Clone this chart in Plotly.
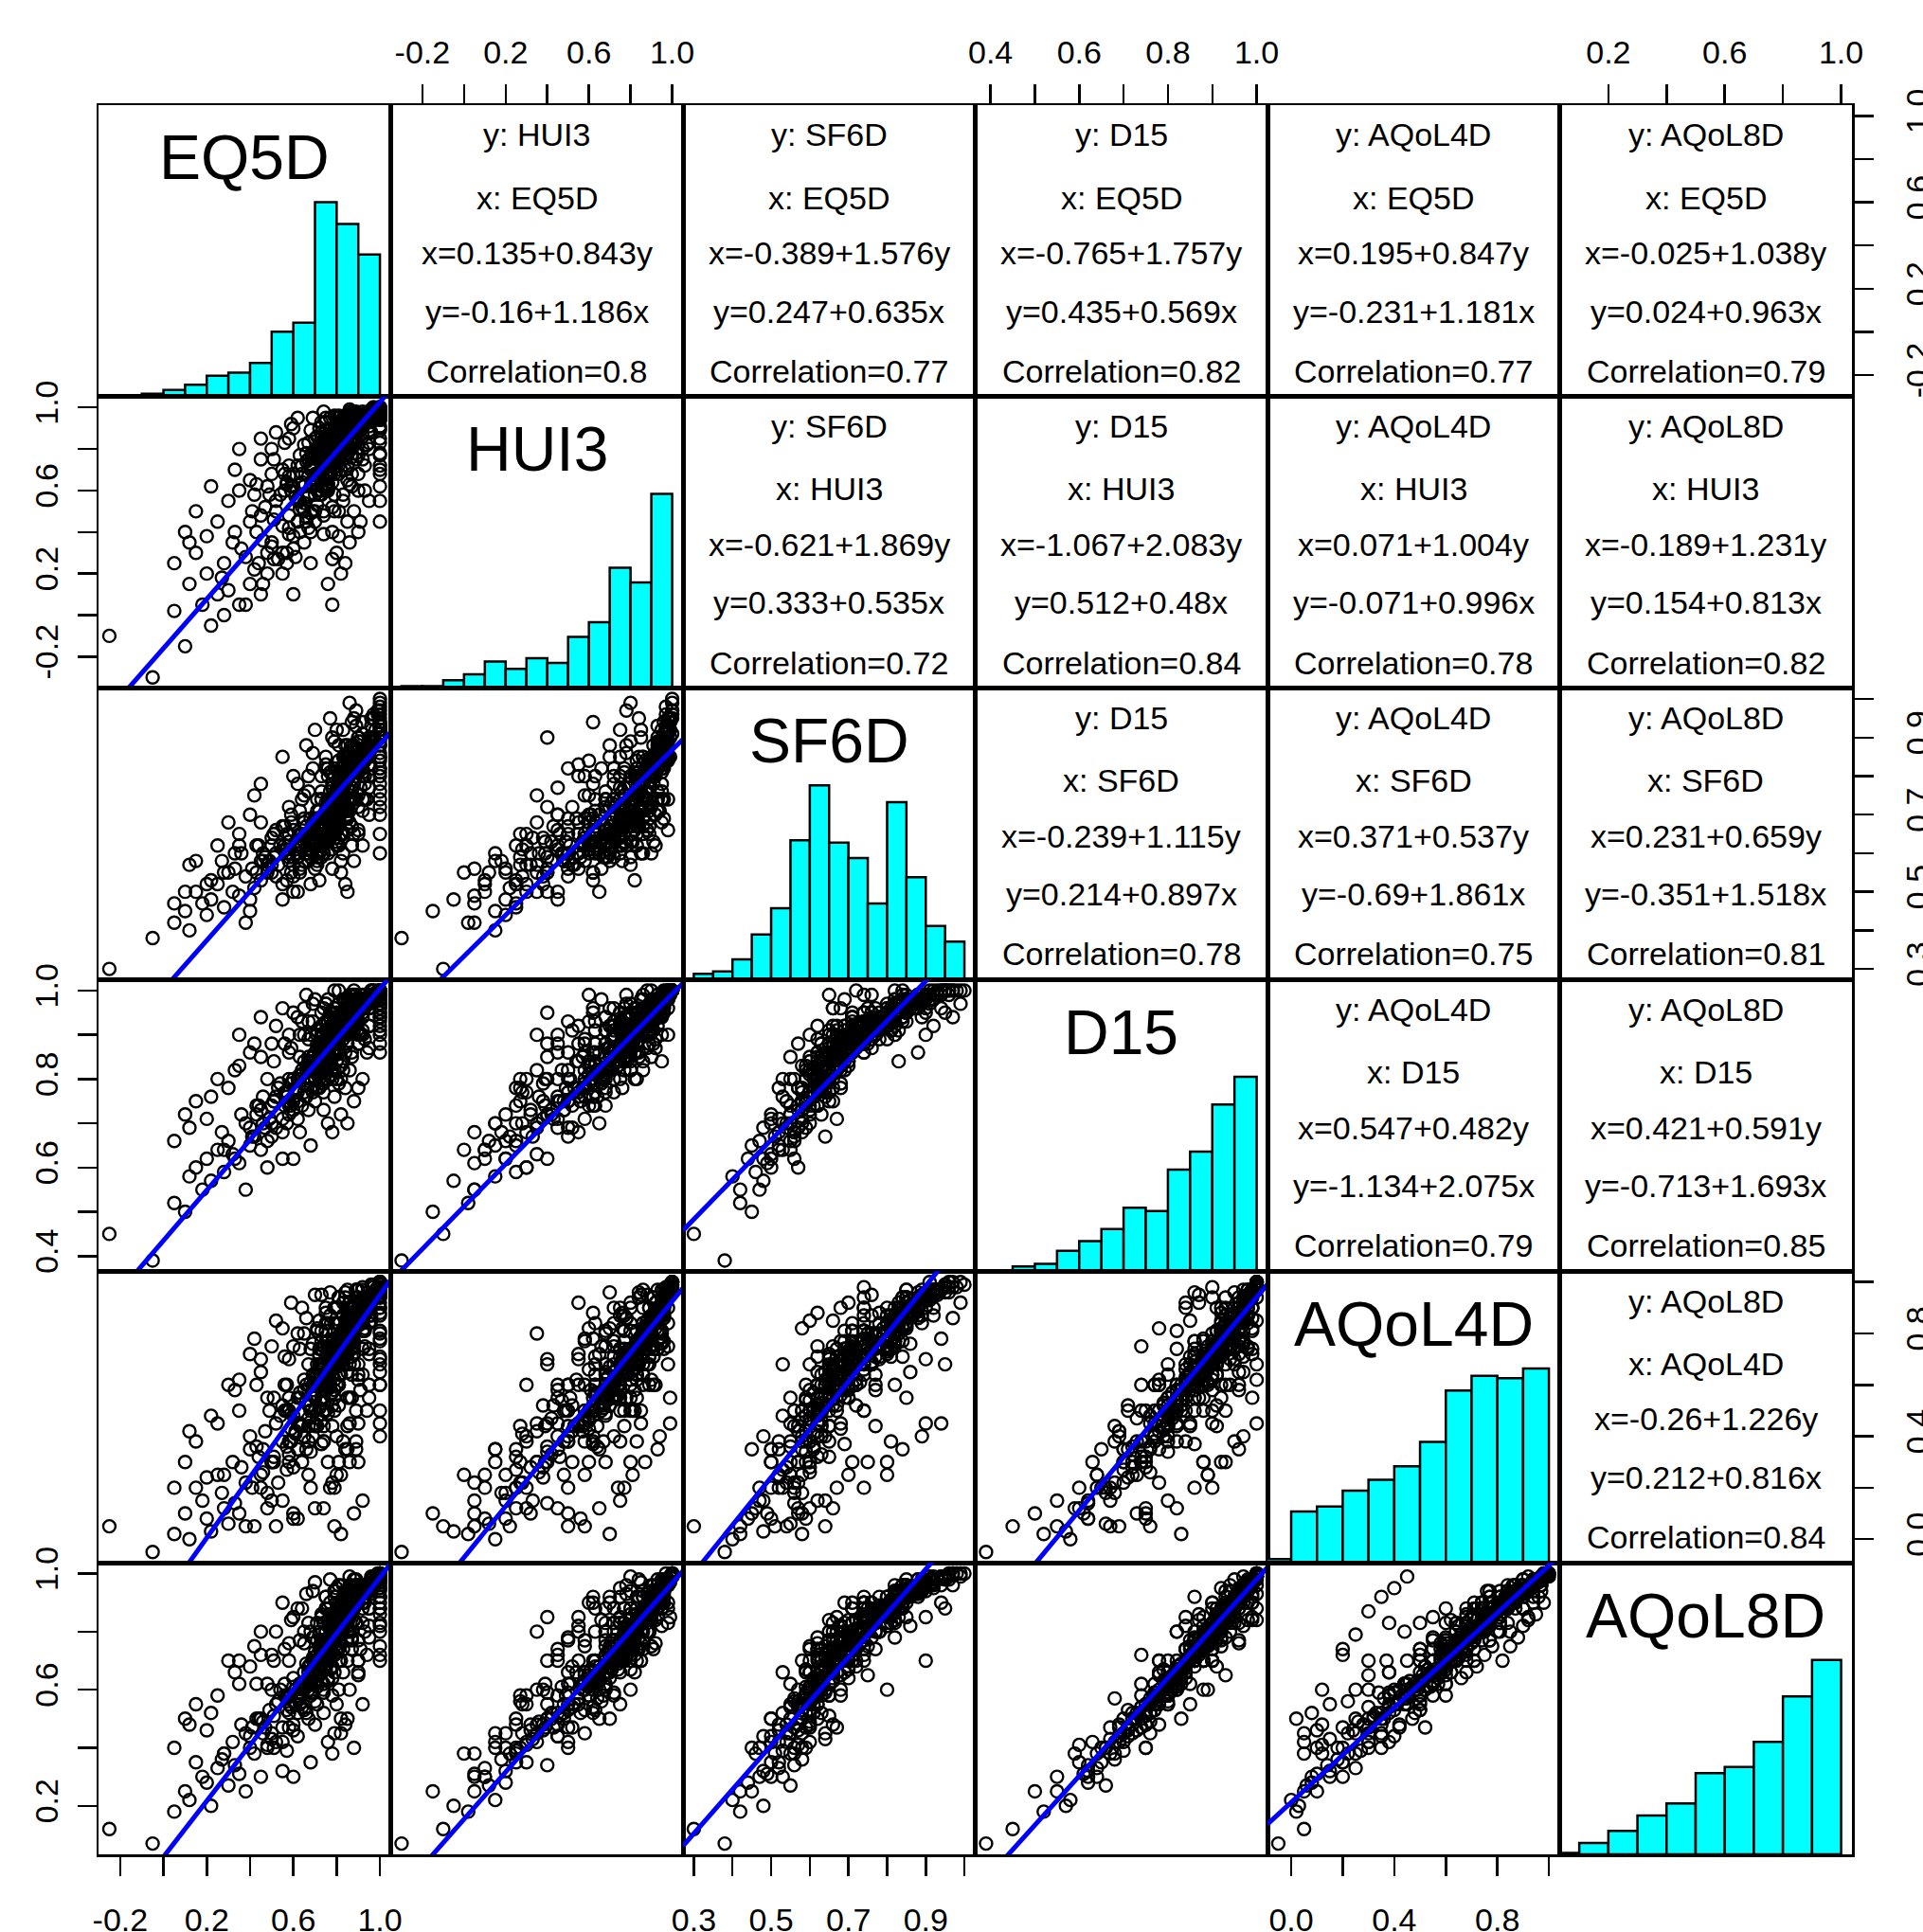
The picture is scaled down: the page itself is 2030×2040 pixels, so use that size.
import plotly.graph_objects as go
from plotly.subplots import make_subplots

names = ["EQ5D", "HUI3", "SF6D", "D15", "AQoL4D", "AQoL8D"]

EQ5D = [-0.25, -0.05, 0.05, 0.10, 0.12, 0.18, 0.20, 0.15, 0.22, 0.25, 0.28, 0.30, 0.32, 0.27, 0.35, 0.38, 0.40, 0.33, 0.42, 0.36, 0.45, 0.40, 0.48, 0.44, 0.20,
        0.50, 0.45, 0.55, 0.52, 0.48, 0.58, 0.60, 0.47, 0.53, 0.62, 0.56, 0.50, 0.65, 0.43, 0.57, 0.54, 0.60, 0.51, 0.63, 0.46, 0.59, 0.55, 0.68, 0.52, 0.61,
        0.62, 0.65, 0.58, 0.70, 0.66, 0.60, 0.72, 0.64, 0.68, 0.59, 0.74, 0.63, 0.67, 0.61, 0.70, 0.65, 0.57, 0.73, 0.66, 0.69, 0.62, 0.75, 0.64, 0.71, 0.60,
        0.70, 0.73, 0.68, 0.76, 0.71, 0.66, 0.74, 0.72, 0.69, 0.77, 0.70, 0.75, 0.67, 0.78, 0.72, 0.73, 0.68, 0.76, 0.71, 0.74, 0.69, 0.77, 0.72, 0.70, 0.75,
        0.75, 0.78, 0.73, 0.80, 0.76, 0.74, 0.79, 0.77, 0.72, 0.81, 0.75, 0.78, 0.74, 0.80, 0.76, 0.73, 0.79, 0.77, 0.75, 0.82, 0.76, 0.74, 0.80, 0.78, 0.75,
        0.79, 0.81, 0.77, 0.83, 0.80, 0.78, 0.82, 0.79, 0.85, 0.80, 0.77, 0.83, 0.81, 0.78, 0.84, 0.80, 0.79, 0.82, 0.77, 0.85, 0.81, 0.78, 0.83, 0.80, 0.82,
        0.83, 0.85, 0.81, 0.87, 0.84, 0.82, 0.86, 0.83, 0.88, 0.84, 0.82, 0.86, 0.85, 0.83, 0.87, 0.81, 0.85, 0.88, 0.84, 0.82, 0.86, 0.83, 0.87, 0.85, 0.84,
        0.87, 0.89, 0.85, 0.91, 0.88, 0.86, 0.90, 0.87, 0.92, 0.88, 0.86, 0.89, 0.87, 0.90, 0.85, 0.91, 0.88, 0.86, 0.90, 0.89, 0.87, 0.92, 0.88, 0.86, 0.90,
        0.92, 0.95, 0.90, 0.97, 0.93, 0.91, 0.94, 1.00, 0.92, 0.96, 0.90, 1.00, 0.93, 0.95, 0.91, 0.94, 1.00, 0.92, 0.96, 0.93, 0.90, 0.95, 1.00, 0.92, 0.94,
        1.00, 1.00, 0.96, 1.00, 0.98, 1.00, 0.97, 1.00, 0.99, 1.00, 0.96, 1.00, 1.00, 0.97, 1.00, 1.00, 0.98, 1.00, 0.99, 1.00, 0.96, 1.00, 1.00, 0.97, 1.00,
        0.85, 0.80, 0.90, 0.75, 0.60, 1.00, 1.00, 1.00, 0.45, 0.35, 0.82, 0.88, 0.70, 0.55, 0.78, 0.85, 0.92, 0.65, 0.50, 0.30, 0.25, 0.15, 0.95, 0.88, 0.72,
        0.80, 0.68, 0.76, 0.86, 1.00, 1.00, 1.00, 0.58, 0.62, 0.40, 0.83, 0.90, 0.94, 0.74, 0.66, 0.55, 0.48, 0.10, 0.05, 0.38, 0.60, 0.78, 0.84, 0.91, 0.87,
        0.80, 0.73, 0.69, 0.79, 0.82, 0.70, 0.90, 0.86, 0.64, 0.52, 0.42, 0.33, 0.90, 0.95, 1.00, 1.00, 1.00, 0.77, 0.71, 0.85, 0.76, 0.63, 0.57, 0.46, 0.28,
        0.22, 0.12, 0.35, 0.89, 0.93, 0.81, 0.84, 0.78, 0.72, 0.67, 0.88, 0.92, 0.96, 0.74, 0.81, 0.59, 0.45, 0.50, 0.86, 0.79, 0.87, 0.69, 0.93, 0.76, 0.65,
        0.76, 0.85, 0.74, 0.81, 0.67, 0.89, 0.79, 0.56, 0.84, 0.75, 0.87, 0.70, 0.78, 0.92, 0.62, 0.82, 0.73, 0.86, 0.49, 0.79, 0.95, 0.69, 0.83, 0.76, 0.89,
        0.78, 0.58, 0.80, 0.72, 0.88, 0.79, 0.74, 0.84, 0.64, 0.83, 0.77, 0.93, 0.68, 0.82, 0.75, 0.41, 0.85, 0.80, 0.71, 1.00, 0.73, 0.87, 0.76, 0.58, 0.84,
        0.90, 0.75, 0.81, 0.69, 0.85, 0.78, 0.51, 0.96, 0.73, 0.84, 0.77, 0.63, 0.88, 0.81, 0.70, 0.93, 0.76, 0.85, 0.67, 0.79, 0.89, 0.77, 0.72, 0.83, 0.57,
        0.81, 0.86, 0.89, 0.77, 0.68, 0.74, 0.87, 0.92, 1.00, 1.00, 1.00, 1.00, 0.56, 0.51, 0.83, 0.79, 0.73, 0.85, 0.90, 0.81, 0.76, 0.71, 0.87, 0.84, 0.75,
        0.63, 0.43, 0.79, 0.92, 0.95, 0.86, 0.81, 0.78, 0.71, 0.89, 0.83, 0.87, 0.80, 0.73, 0.67, 0.95, 0.93, 0.81, 0.85, 0.89, 0.77, 0.75, 0.79, 0.58, 0.83,
        0.87, 0.73, 0.82, 1.00, 1.00, 1.00, 0.96, 0.92, 0.89, 0.88, 0.85, 0.81, 0.79, 0.95, 0.92, 0.83, 0.87, 0.90, 0.85, 0.95, 0.81, 0.77, 0.75, 0.71, 0.79]

HUI3 = [-0.10, -0.30, 0.02, -0.15, 0.15, 0.05, 0.20, 0.30, -0.05, 0.10, 0.25, 0.12, 0.35, 0.18, 0.05, 0.28, 0.15, 0.40, 0.22, 0.32, 0.10, 0.45, 0.30, 0.25, 0.38,
        0.35, 0.48, 0.30, 0.55, 0.20, 0.42, 0.38, 0.52, 0.27, 0.45, 0.60, 0.33, 0.50, 0.40, 0.25, 0.58, 0.32, 0.46, 0.55, 0.36, 0.62, 0.43, 0.40, 0.50, 0.28,
        0.55, 0.62, 0.48, 0.65, 0.45, 0.68, 0.58, 0.52, 0.70, 0.60, 0.50, 0.63, 0.42, 0.57, 0.66, 0.54, 0.64, 0.60, 0.47, 0.72, 0.56, 0.61, 0.68, 0.53, 0.62,
        0.68, 0.72, 0.62, 0.75, 0.60, 0.74, 0.66, 0.78, 0.63, 0.70, 0.58, 0.73, 0.67, 0.64, 0.76, 0.69, 0.72, 0.61, 0.80, 0.65, 0.70, 0.74, 0.67, 0.77, 0.63,
        0.74, 0.78, 0.70, 0.80, 0.72, 0.82, 0.75, 0.68, 0.79, 0.76, 0.71, 0.84, 0.73, 0.77, 0.69, 0.81, 0.74, 0.78, 0.72, 0.80, 0.75, 0.83, 0.70, 0.76, 0.79,
        0.80, 0.84, 0.77, 0.86, 0.79, 0.82, 0.78, 0.88, 0.81, 0.76, 0.85, 0.80, 0.83, 0.79, 0.87, 0.81, 0.77, 0.84, 0.80, 0.82, 0.78, 0.86, 0.81, 0.83, 0.79,
        0.85, 0.89, 0.83, 0.91, 0.86, 0.88, 0.84, 0.90, 0.86, 0.92, 0.85, 0.87, 0.89, 0.84, 0.90, 0.87, 0.83, 0.91, 0.88, 0.86, 0.92, 0.85, 0.89, 0.87, 0.90,
        0.91, 0.94, 0.89, 0.95, 0.92, 0.93, 0.90, 0.96, 0.91, 0.94, 0.90, 0.93, 0.95, 0.91, 0.92, 0.96, 0.89, 0.94, 0.92, 0.95, 0.90, 0.93, 0.91, 0.96, 0.92,
        0.94, 0.96, 0.93, 0.97, 0.95, 0.96, 0.94, 0.97, 0.93, 0.96, 0.95, 0.94, 0.97, 0.93, 0.96, 0.95, 0.97, 0.94, 0.96, 0.93, 0.97, 0.95, 0.94, 0.96, 0.95,
        0.98, 1.00, 0.97, 0.99, 0.98, 1.00, 0.96, 0.99, 0.97, 1.00, 0.98, 0.97, 0.99, 1.00, 0.98, 1.00, 0.97, 0.99, 1.00, 0.98, 0.99, 1.00, 0.97, 1.00, 0.99,
        0.45, 0.30, 0.60, 0.95, 0.90, 0.70, 0.55, 0.85, 0.75, 0.60, 0.20, 0.50, 0.85, 0.70, 0.40, 0.65, 0.75, 0.35, 0.80, 0.55, 0.45, 0.50, 0.80, 0.98, 0.90,
        0.75, 0.25, 0.15, 0.35, 0.90, 0.62, 0.78, 0.85, 0.95, 0.65, 0.55, 0.68, 0.82, 0.98, 0.78, 0.20, 0.62, 0.40, 0.25, 0.05, 0.10, 0.05, 0.25, 0.45, 0.62,
        0.95, 0.88, 0.50, 0.58, 0.70, 0.45, 0.85, 0.99, 0.72, 0.88, 0.58, 0.70, 0.40, 0.55, 0.45, 0.95, 0.68, 0.84, 0.76, 0.72, 0.66, 0.40, 0.30, 0.15, 0.00,
        0.62, 0.35, 0.80, 0.78, 0.60, 0.92, 0.70, 0.52, 0.82, 0.58, 0.86, 0.98, 0.88, 0.48, 0.38, 0.92, 0.85, 0.68, 0.80, 0.90, 0.76, 0.95, 0.72, 0.60, 0.82,
        0.63, 0.93, 0.81, 0.72, 0.75, 0.84, 0.89, 0.68, 0.77, 0.86, 0.96, 0.50, 0.83, 0.90, 0.72, 0.91, 0.62, 0.80, 0.58, 0.75, 0.95, 0.77, 0.94, 0.68, 0.86,
        0.80, 0.39, 0.88, 0.75, 0.83, 0.71, 0.84, 0.91, 0.64, 0.80, 0.86, 0.92, 0.49, 0.77, 0.89, 0.50, 0.82, 0.93, 0.63, 0.96, 0.78, 0.95, 0.72, 0.67, 0.91,
        0.89, 0.80, 0.75, 0.71, 0.96, 0.83, 0.27, 0.93, 0.86, 0.77, 0.89, 0.51, 0.86, 0.93, 0.77, 0.97, 0.72, 0.95, 0.57, 0.86, 0.91, 0.75, 0.80, 0.83, 0.63,
        0.50, 0.63, 0.75, 0.95, 0.89, 0.39, 0.68, 0.80, 0.83, 0.72, 0.91, 0.77, 0.83, 0.75, 0.58, 0.96, 0.93, 0.72, 0.77, 0.91, 0.63, 0.80, 0.83, 0.96, 0.86,
        0.77, 0.63, 0.50, 0.86, 0.89, 0.98, 0.95, 0.27, 0.68, 0.93, 0.75, 0.80, 0.91, 0.58, 0.83, 0.83, 0.95, 0.68, 0.77, 0.83, 0.77, 0.93, 0.80, 0.72, 0.86,
        0.93, 0.75, 0.83, 0.95, 0.89, 0.98, 0.98, 0.96, 0.98, 0.96, 0.86, 0.96, 0.89, 0.91, 0.93, 0.95, 0.98, 0.95, 0.93, 0.96, 0.80, 0.83, 0.89, 0.86, 0.68]

SF6D = [0.30, 0.38, 0.42, 0.45, 0.40, 0.47, 0.44, 0.50, 0.48, 0.52, 0.46, 0.55, 0.50, 0.58, 0.49, 0.54, 0.45, 0.56, 0.51, 0.60, 0.53, 0.48, 0.57, 0.62, 0.52,
        0.55, 0.58, 0.52, 0.60, 0.56, 0.63, 0.54, 0.59, 0.57, 0.50, 0.61, 0.64, 0.58, 0.55, 0.53, 0.62, 0.57, 0.65, 0.56, 0.60, 0.55, 0.67, 0.59, 0.54, 0.61,
        0.60, 0.63, 0.58, 0.66, 0.61, 0.59, 0.64, 0.57, 0.62, 0.68, 0.60, 0.65, 0.58, 0.62, 0.56, 0.69, 0.61, 0.63, 0.60, 0.64, 0.59, 0.70, 0.62, 0.57, 0.66,
        0.63, 0.66, 0.61, 0.64, 0.60, 0.67, 0.63, 0.62, 0.68, 0.65, 0.62, 0.70, 0.64, 0.61, 0.66, 0.59, 0.65, 0.63, 0.71, 0.60, 0.67, 0.64, 0.62, 0.69, 0.65,
        0.67, 0.70, 0.65, 0.68, 0.72, 0.66, 0.69, 0.64, 0.71, 0.67, 0.73, 0.68, 0.66, 0.70, 0.65, 0.74, 0.67, 0.69, 0.64, 0.72, 0.68, 0.70, 0.66, 0.71, 0.67,
        0.71, 0.75, 0.69, 0.73, 0.77, 0.70, 0.72, 0.74, 0.69, 0.76, 0.71, 0.73, 0.68, 0.78, 0.72, 0.70, 0.75, 0.71, 0.73, 0.80, 0.70, 0.74, 0.72, 0.76, 0.71,
        0.77, 0.80, 0.75, 0.82, 0.78, 0.76, 0.81, 0.79, 0.74, 0.83, 0.77, 0.80, 0.84, 0.76, 0.81, 0.79, 0.82, 0.78, 0.83, 0.75, 0.81, 0.80, 0.77, 0.84, 0.79,
        0.82, 0.84, 0.81, 0.86, 0.83, 0.82, 0.85, 0.83, 0.81, 0.87, 0.82, 0.84, 0.88, 0.81, 0.85, 0.83, 0.84, 0.86, 0.82, 0.85, 0.83, 0.87, 0.81, 0.84, 0.85,
        0.86, 0.88, 0.85, 0.90, 0.87, 0.89, 0.86, 0.91, 0.84, 0.88, 0.87, 0.89, 0.85, 0.90, 0.86, 0.88, 0.92, 0.85, 0.89, 0.87, 0.90, 0.86, 0.88, 0.91, 0.87,
        0.93, 0.97, 0.90, 0.95, 0.92, 1.00, 0.89, 0.94, 0.96, 0.91, 0.93, 0.98, 0.90, 0.95, 0.92, 0.96, 0.89, 0.94, 0.97, 0.91, 0.95, 0.99, 0.93, 0.96, 0.92,
        0.70, 0.62, 0.75, 0.85, 0.80, 0.72, 0.65, 0.60, 0.68, 0.62, 0.55, 0.58, 0.92, 0.85, 0.90, 0.50, 0.62, 0.75, 0.57, 0.68, 0.62, 0.58, 0.70, 0.95, 0.60,
        0.92, 0.52, 0.60, 0.68, 0.80, 0.78, 0.86, 0.72, 0.78, 0.70, 0.83, 0.66, 0.74, 0.66, 0.88, 0.48, 0.55, 0.50, 0.47, 0.42, 0.50, 0.56, 0.52, 0.77, 0.94,
        0.68, 0.76, 0.82, 0.64, 0.58, 0.66, 0.90, 0.85, 0.74, 0.66, 0.75, 0.60, 0.72, 0.80, 0.70, 0.85, 0.76, 0.95, 0.58, 0.66, 0.82, 0.55, 0.65, 0.58, 0.55,
        0.53, 0.57, 0.65, 0.97, 0.84, 0.62, 0.88, 0.72, 0.53, 0.80, 0.65, 0.74, 0.82, 0.60, 0.64, 0.70, 0.78, 0.62, 0.99, 0.72, 0.62, 0.86, 0.78, 0.70, 0.68,
        0.74, 0.71, 0.63, 0.80, 0.60, 0.85, 0.67, 0.62, 0.75, 0.69, 0.83, 0.65, 0.77, 0.82, 0.59, 0.81, 0.69, 0.74, 0.58, 0.65, 0.88, 0.63, 0.71, 0.72, 0.80,
        0.67, 0.60, 0.76, 0.62, 0.84, 0.69, 0.67, 0.85, 0.65, 0.74, 0.71, 0.80, 0.63, 0.82, 0.65, 0.56, 0.69, 0.74, 0.67, 0.85, 0.62, 0.82, 0.71, 0.59, 0.81,
        0.83, 0.63, 0.77, 0.62, 0.74, 0.69, 0.59, 0.89, 0.67, 0.71, 0.74, 0.62, 0.85, 0.71, 0.65, 0.84, 0.69, 0.81, 0.63, 0.74, 0.82, 0.67, 0.71, 0.76, 0.60,
        0.69, 0.71, 0.74, 0.76, 0.69, 0.63, 0.74, 0.80, 0.82, 0.74, 0.84, 0.81, 0.67, 0.65, 0.65, 0.82, 0.74, 0.82, 0.65, 0.88, 0.80, 0.59, 0.62, 0.69, 0.83,
        0.71, 0.62, 0.67, 0.71, 0.77, 0.85, 0.74, 0.65, 0.74, 0.93, 0.85, 0.67, 0.63, 0.69, 0.76, 0.80, 0.74, 0.71, 0.77, 0.81, 0.74, 0.82, 0.89, 0.65, 0.60,
        0.76, 0.80, 0.65, 0.88, 0.82, 0.93, 0.89, 0.94, 0.85, 0.88, 0.85, 0.84, 0.80, 0.83, 0.82, 0.92, 0.84, 0.89, 0.88, 0.85, 0.67, 0.81, 0.71, 0.69, 0.74]

D15 = [0.45, 0.39, 0.52, 0.50, 0.58, 0.55, 0.62, 0.60, 0.57, 0.64, 0.59, 0.66, 0.63, 0.68, 0.61, 0.70, 0.65, 0.62, 0.67, 0.72, 0.64, 0.69, 0.60, 0.74, 0.71,
       0.70, 0.73, 0.68, 0.76, 0.66, 0.72, 0.75, 0.69, 0.78, 0.71, 0.74, 0.67, 0.77, 0.72, 0.70, 0.79, 0.73, 0.75, 0.68, 0.76, 0.74, 0.71, 0.80, 0.69, 0.77,
       0.77, 0.79, 0.75, 0.82, 0.76, 0.80, 0.78, 0.74, 0.83, 0.79, 0.77, 0.81, 0.73, 0.78, 0.80, 0.84, 0.76, 0.79, 0.82, 0.77, 0.75, 0.83, 0.81, 0.78, 0.80,
       0.82, 0.84, 0.80, 0.86, 0.81, 0.83, 0.79, 0.85, 0.83, 0.87, 0.80, 0.84, 0.82, 0.81, 0.86, 0.83, 0.84, 0.80, 0.87, 0.82, 0.85, 0.83, 0.81, 0.86, 0.84,
       0.86, 0.88, 0.85, 0.89, 0.87, 0.90, 0.86, 0.85, 0.88, 0.87, 0.89, 0.86, 0.84, 0.90, 0.87, 0.88, 0.86, 0.89, 0.85, 0.90, 0.87, 0.88, 0.86, 0.89, 0.87,
       0.89, 0.91, 0.88, 0.92, 0.90, 0.89, 0.91, 0.93, 0.90, 0.89, 0.92, 0.90, 0.88, 0.91, 0.92, 0.89, 0.90, 0.91, 0.88, 0.92, 0.90, 0.91, 0.89, 0.92, 0.90,
       0.92, 0.93, 0.91, 0.94, 0.92, 0.93, 0.94, 0.92, 0.91, 0.95, 0.93, 0.92, 0.94, 0.91, 0.93, 0.94, 0.92, 0.93, 0.95, 0.92, 0.94, 0.93, 0.92, 0.94, 0.93,
       0.95, 0.96, 0.94, 0.97, 0.95, 0.96, 0.95, 0.97, 0.94, 0.96, 0.95, 0.96, 0.97, 0.95, 0.96, 0.97, 0.94, 0.96, 0.95, 0.97, 0.95, 0.96, 0.95, 0.97, 0.96,
       0.97, 0.98, 0.96, 0.99, 0.97, 0.98, 0.97, 0.98, 0.96, 0.98, 0.97, 0.97, 0.98, 0.96, 0.98, 0.97, 0.99, 0.97, 0.98, 0.96, 0.98, 0.97, 0.98, 0.97, 0.98,
       0.99, 1.00, 0.99, 1.00, 0.99, 1.00, 0.98, 1.00, 0.99, 1.00, 0.99, 1.00, 0.99, 1.00, 0.99, 1.00, 0.98, 1.00, 1.00, 0.99, 1.00, 1.00, 0.99, 1.00, 1.00,
       0.88, 0.80, 0.93, 0.97, 0.95, 0.92, 0.88, 0.90, 0.85, 0.83, 0.72, 0.75, 0.98, 0.96, 0.95, 0.70, 0.80, 0.90, 0.88, 0.78, 0.80, 0.75, 0.87, 1.00, 0.85,
       0.92, 0.65, 0.70, 0.82, 0.93, 0.95, 0.97, 0.90, 0.94, 0.86, 0.84, 0.78, 0.86, 0.96, 0.99, 0.62, 0.80, 0.72, 0.66, 0.55, 0.62, 0.68, 0.78, 0.90, 0.96,
       0.84, 0.87, 0.93, 0.76, 0.83, 0.75, 0.90, 0.99, 0.93, 0.92, 0.88, 0.82, 0.88, 0.92, 0.86, 0.96, 0.94, 0.95, 0.78, 0.96, 0.98, 0.85, 0.77, 0.70, 0.64,
       0.76, 0.69, 0.90, 0.94, 0.99, 0.89, 0.86, 0.91, 0.80, 0.89, 0.99, 0.90, 1.00, 0.73, 0.79, 0.87, 0.94, 0.74, 0.97, 1.00, 0.92, 0.97, 0.89, 0.84, 0.96,
       0.86, 0.95, 0.88, 0.92, 0.84, 0.93, 0.91, 0.77, 0.96, 0.82, 0.97, 0.80, 0.90, 0.98, 0.80, 0.93, 0.86, 0.95, 0.71, 0.91, 0.99, 0.85, 0.94, 0.88, 0.96,
       0.82, 0.74, 0.90, 0.86, 0.93, 0.92, 0.85, 0.96, 0.82, 0.91, 0.94, 0.97, 0.78, 0.90, 0.88, 0.67, 0.92, 0.95, 0.88, 0.98, 0.84, 0.96, 0.86, 0.80, 0.91,
       0.97, 0.84, 0.93, 0.82, 0.95, 0.91, 0.75, 0.98, 0.90, 0.92, 0.88, 0.80, 0.95, 0.94, 0.82, 0.98, 0.90, 0.96, 0.85, 0.91, 0.93, 0.88, 0.86, 0.95, 0.77,
       0.86, 0.91, 0.93, 0.95, 0.90, 0.80, 0.91, 0.95, 0.96, 0.91, 0.97, 0.94, 0.88, 0.84, 0.82, 0.96, 0.92, 0.90, 0.88, 0.97, 0.93, 0.82, 0.86, 0.98, 0.91,
       0.90, 0.74, 0.82, 0.91, 0.96, 0.98, 0.90, 0.80, 0.91, 0.99, 0.95, 0.85, 0.88, 0.86, 0.93, 0.92, 0.99, 0.88, 0.91, 0.95, 0.90, 0.97, 0.94, 0.86, 0.84,
       0.99, 0.95, 0.80, 0.99, 0.95, 1.00, 0.99, 0.99, 0.98, 0.99, 0.98, 1.00, 0.96, 0.97, 0.97, 0.98, 0.98, 0.97, 0.96, 0.96, 0.92, 0.91, 0.93, 0.90, 0.91]

AQoL4D = [0.05, -0.05, 0.02, 0.10, 0.00, 0.15, 0.08, 0.20, 0.03, 0.25, 0.12, 0.06, 0.30, 0.18, 0.10, 0.22, 0.35, 0.14, 0.05, 0.28, 0.20, 0.40, 0.12, 0.32, 0.24,
          0.30, 0.25, 0.38, 0.45, 0.18, 0.33, 0.28, 0.42, 0.22, 0.35, 0.50, 0.15, 0.40, 0.36, 0.27, 0.48, 0.10, 0.32, 0.44, 0.26, 0.38, 0.52, 0.34, 0.05, 0.41,
          0.45, 0.40, 0.50, 0.55, 0.35, 0.48, 0.60, 0.30, 0.52, 0.43, 0.38, 0.57, 0.47, 0.42, 0.50, 0.62, 0.36, 0.46, 0.54, 0.40, 0.08, 0.58, 0.49, 0.44, 0.52,
          0.55, 0.58, 0.50, 0.62, 0.47, 0.60, 0.53, 0.65, 0.56, 0.59, 0.45, 0.63, 0.52, 0.57, 0.66, 0.54, 0.61, 0.49, 0.68, 0.12, 0.58, 0.56, 0.51, 0.64, 0.60,
          0.63, 0.67, 0.60, 0.70, 0.62, 0.68, 0.58, 0.65, 0.72, 0.64, 0.61, 0.69, 0.55, 0.71, 0.63, 0.66, 0.20, 0.68, 0.60, 0.73, 0.65, 0.62, 0.67, 0.70, 0.64,
          0.70, 0.74, 0.68, 0.76, 0.71, 0.66, 0.73, 0.78, 0.72, 0.69, 0.75, 0.70, 0.77, 0.71, 0.74, 0.25, 0.72, 0.76, 0.68, 0.73, 0.70, 0.75, 0.71, 0.74, 0.69,
          0.77, 0.81, 0.74, 0.84, 0.76, 0.80, 0.78, 0.82, 0.75, 0.85, 0.79, 0.30, 0.83, 0.77, 0.81, 0.79, 0.76, 0.84, 0.80, 0.78, 0.82, 0.77, 0.80, 0.83, 0.79,
          0.84, 0.87, 0.82, 0.89, 0.85, 0.86, 0.83, 0.88, 0.84, 0.90, 0.83, 0.35, 0.87, 0.85, 0.86, 0.89, 0.82, 0.88, 0.84, 0.87, 0.83, 0.90, 0.85, 0.86, 0.88,
          0.90, 0.93, 0.88, 0.95, 0.91, 0.92, 0.89, 0.94, 0.88, 0.93, 0.91, 0.40, 0.92, 0.90, 0.93, 0.89, 0.95, 0.90, 0.92, 0.88, 0.94, 0.91, 0.90, 0.93, 0.92,
          0.96, 1.00, 0.95, 0.98, 0.97, 0.99, 0.94, 0.97, 0.96, 1.00, 0.95, 0.98, 0.96, 0.99, 0.97, 1.00, 0.95, 0.45, 0.98, 0.96, 0.99, 1.00, 0.97, 0.98, 0.97,
          0.55, 0.40, 0.30, 0.88, 0.75, 0.60, 0.70, 0.50, 0.65, 0.50, 0.25, 0.10, 0.95, 0.82, 0.70, 0.35, 0.15, 0.80, 0.30, 0.60, 0.45, 0.38, 0.55, 0.68, 0.85,
          0.90, 0.20, 0.30, 0.45, 0.78, 0.88, 0.65, 0.70, 0.80, 0.72, 0.92, 0.62, 0.50, 0.75, 0.86, 0.15, 0.55, 0.30, 0.20, 0.05, 0.08, 0.22, 0.35, 0.58, 0.78,
          0.90, 0.95, 0.60, 0.05, 0.02, 0.12, 0.45, 0.55, 0.90, 0.85, 0.78, 0.58, 0.68, 0.72, 0.60, 0.92, 0.80, 0.96, 0.82, 0.65, 0.75, 0.45, 0.60, 0.35, 0.25,
          0.48, 0.42, 0.62, 0.86, 0.82, 0.60, 0.96, 0.52, 0.68, 0.25, 0.72, 0.98, 0.85, 0.38, 0.52, 0.92, 0.70, 0.75, 0.92, 0.62, 0.88, 0.76, 0.75, 0.66, 0.58,
          0.71, 0.74, 0.50, 0.84, 0.38, 0.94, 0.68, 0.60, 0.72, 0.81, 0.77, 0.44, 0.64, 0.87, 0.55, 0.74, 0.37, 0.90, 0.50, 0.68, 0.90, 0.64, 0.81, 0.60, 0.84,
          0.74, 0.30, 0.68, 0.71, 0.77, 0.55, 0.68, 0.94, 0.44, 0.81, 0.60, 0.87, 0.50, 0.77, 0.71, 0.20, 0.74, 0.84, 0.64, 0.94, 0.55, 0.81, 0.77, 0.38, 0.71,
          0.90, 0.50, 0.74, 0.60, 0.87, 0.64, 0.30, 0.87, 0.68, 0.81, 0.71, 0.55, 0.84, 0.74, 0.50, 0.94, 0.71, 0.77, 0.44, 0.81, 0.87, 0.60, 0.74, 0.68, 0.50,
          0.60, 0.68, 0.50, 0.87, 0.74, 0.44, 0.64, 0.74, 0.81, 0.68, 0.71, 0.87, 0.71, 0.55, 0.38, 0.90, 0.81, 0.77, 0.64, 0.94, 0.84, 0.60, 0.55, 0.74, 0.90,
          0.74, 0.60, 0.50, 0.64, 0.60, 0.84, 0.94, 0.44, 0.81, 0.97, 0.87, 0.71, 0.60, 0.77, 0.68, 0.74, 0.81, 0.30, 0.44, 0.38, 0.20, 0.77, 0.84, 0.55, 0.68,
          0.74, 0.74, 0.64, 0.90, 0.77, 0.97, 0.94, 0.97, 0.97, 0.90, 0.97, 0.94, 0.90, 0.84, 0.81, 0.87, 0.90, 0.97, 0.90, 0.87, 0.71, 0.74, 0.84, 0.64, 0.68]

AQoL8D = [0.12, 0.07, 0.18, 0.25, 0.22, 0.30, 0.28, 0.35, 0.20, 0.33, 0.38, 0.27, 0.42, 0.36, 0.31, 0.45, 0.40, 0.34, 0.38, 0.48, 0.30, 0.44, 0.41, 0.50, 0.46,
          0.45, 0.50, 0.42, 0.55, 0.40, 0.52, 0.48, 0.47, 0.56, 0.44, 0.58, 0.43, 0.53, 0.50, 0.39, 0.60, 0.46, 0.51, 0.57, 0.49, 0.54, 0.47, 0.59, 0.42, 0.55,
          0.57, 0.60, 0.55, 0.63, 0.52, 0.61, 0.65, 0.54, 0.64, 0.58, 0.59, 0.62, 0.50, 0.60, 0.56, 0.66, 0.57, 0.63, 0.61, 0.59, 0.52, 0.67, 0.60, 0.55, 0.64,
          0.66, 0.70, 0.63, 0.72, 0.61, 0.69, 0.67, 0.71, 0.65, 0.73, 0.62, 0.70, 0.68, 0.64, 0.74, 0.66, 0.69, 0.63, 0.72, 0.60, 0.71, 0.67, 0.65, 0.73, 0.68,
          0.73, 0.76, 0.71, 0.78, 0.74, 0.77, 0.72, 0.75, 0.79, 0.74, 0.76, 0.78, 0.70, 0.79, 0.73, 0.77, 0.72, 0.75, 0.71, 0.80, 0.76, 0.74, 0.73, 0.78, 0.75,
          0.79, 0.82, 0.78, 0.84, 0.80, 0.79, 0.81, 0.85, 0.80, 0.78, 0.83, 0.81, 0.82, 0.80, 0.84, 0.79, 0.81, 0.83, 0.79, 0.82, 0.80, 0.84, 0.81, 0.82, 0.80,
          0.85, 0.88, 0.84, 0.89, 0.86, 0.87, 0.85, 0.88, 0.84, 0.90, 0.86, 0.87, 0.89, 0.85, 0.88, 0.87, 0.84, 0.89, 0.88, 0.85, 0.90, 0.86, 0.87, 0.88, 0.89,
          0.90, 0.92, 0.89, 0.93, 0.91, 0.90, 0.92, 0.94, 0.90, 0.93, 0.91, 0.92, 0.94, 0.90, 0.92, 0.93, 0.90, 0.92, 0.91, 0.93, 0.90, 0.94, 0.91, 0.92, 0.93,
          0.94, 0.96, 0.93, 0.97, 0.95, 0.94, 0.95, 0.96, 0.93, 0.96, 0.94, 0.95, 0.96, 0.94, 0.95, 0.96, 0.97, 0.93, 0.95, 0.94, 0.96, 0.95, 0.94, 0.96, 0.95,
          0.98, 1.00, 0.97, 0.99, 0.98, 1.00, 0.97, 0.99, 0.98, 0.99, 0.98, 1.00, 0.97, 0.99, 0.98, 1.00, 0.97, 0.99, 1.00, 0.98, 0.99, 1.00, 0.98, 0.99, 0.99,
          0.70, 0.55, 0.65, 0.92, 0.85, 0.75, 0.80, 0.70, 0.72, 0.62, 0.45, 0.40, 0.97, 0.90, 0.85, 0.50, 0.55, 0.80, 0.60, 0.70, 0.58, 0.55, 0.78, 0.88, 0.75,
          0.95, 0.35, 0.42, 0.60, 0.86, 0.92, 0.82, 0.76, 0.88, 0.68, 0.85, 0.66, 0.72, 0.83, 0.93, 0.32, 0.62, 0.50, 0.40, 0.25, 0.30, 0.38, 0.48, 0.74, 0.90,
          0.82, 0.86, 0.78, 0.45, 0.50, 0.48, 0.70, 0.85, 0.88, 0.80, 0.75, 0.66, 0.70, 0.82, 0.72, 0.95, 0.88, 0.98, 0.70, 0.77, 0.84, 0.55, 0.58, 0.45, 0.38,
          0.52, 0.48, 0.70, 0.96, 0.90, 0.76, 0.92, 0.68, 0.66, 0.60, 0.84, 0.90, 0.93, 0.52, 0.60, 0.84, 0.80, 0.72, 0.99, 0.84, 0.78, 0.94, 0.80, 0.64, 0.76,
          0.70, 0.88, 0.74, 0.83, 0.66, 0.92, 0.85, 0.62, 0.88, 0.80, 0.94, 0.62, 0.83, 0.96, 0.58, 0.90, 0.70, 0.88, 0.53, 0.77, 0.96, 0.70, 0.90, 0.77, 0.92,
          0.80, 0.47, 0.83, 0.70, 0.88, 0.77, 0.74, 0.94, 0.62, 0.86, 0.83, 0.92, 0.58, 0.88, 0.80, 0.47, 0.83, 0.88, 0.70, 0.98, 0.74, 0.92, 0.77, 0.58, 0.88,
          0.94, 0.74, 0.83, 0.67, 0.90, 0.80, 0.40, 0.96, 0.77, 0.83, 0.85, 0.62, 0.92, 0.88, 0.70, 0.96, 0.77, 0.90, 0.62, 0.83, 0.94, 0.74, 0.80, 0.86, 0.53,
          0.77, 0.80, 0.83, 0.90, 0.80, 0.62, 0.80, 0.88, 0.92, 0.83, 0.90, 0.88, 0.74, 0.70, 0.66, 0.94, 0.85, 0.83, 0.77, 0.96, 0.88, 0.67, 0.74, 0.90, 0.88,
          0.77, 0.62, 0.66, 0.83, 0.88, 0.96, 0.90, 0.58, 0.83, 0.98, 0.92, 0.77, 0.74, 0.77, 0.83, 0.88, 0.92, 0.70, 0.80, 0.83, 0.74, 0.92, 0.94, 0.70, 0.74,
          0.90, 0.85, 0.70, 0.98, 0.92, 0.98, 0.98, 0.96, 0.96, 0.98, 0.94, 0.96, 0.92, 0.94, 0.94, 0.96, 0.96, 0.96, 0.94, 0.94, 0.80, 0.86, 0.88, 0.77, 0.80]

# histogram bins (first break, bin width, counts)
hist_start = [-0.3, -0.3, 0.30, 0.35, -0.1, 0.0]
hist_width = [0.1, 0.1, 0.05, 0.05, 0.1, 0.1]
EQ5D_counts = [1, 0, 4, 9, 16, 28, 32, 45, 87, 99, 260, 231, 190]
HUI3_counts = [3, 3, 12, 21, 40, 29, 45, 38, 77, 99, 181, 159, 292]
SF6D_counts = [5, 7, 17, 38, 60, 117, 163, 115, 102, 64, 149, 86, 45, 32]
D15_counts = [1, 1, 6, 9, 25, 37, 52, 78, 74, 125, 147, 205, 239]
AQoL4D_counts = [3, 42, 46, 59, 68, 79, 99, 141, 153, 151, 159]
AQoL8D_counts = [2, 15, 31, 51, 67, 107, 115, 148, 208, 256]

# tick marks and labels
EQ5D_ticks = [-0.2, 0.0, 0.2, 0.4, 0.6, 0.8, 1.0]
EQ5D_labels = ["-0.2", "", "0.2", "", "0.6", "", "1.0"]
HUI3_ticks = [-0.2, 0.0, 0.2, 0.4, 0.6, 0.8, 1.0]
HUI3_labels = ["-0.2", "", "0.2", "", "0.6", "", "1.0"]
SF6D_ticks = [0.3, 0.4, 0.5, 0.6, 0.7, 0.8, 0.9, 1.0]
SF6D_labels = ["0.3", "", "0.5", "", "0.7", "", "0.9", ""]
D15_ticks = [0.4, 0.5, 0.6, 0.7, 0.8, 0.9, 1.0]
D15_labels = ["0.4", "", "0.6", "", "0.8", "", "1.0"]
AQoL4D_ticks = [0.0, 0.2, 0.4, 0.6, 0.8, 1.0]
AQoL4D_labels = ["0.0", "", "0.4", "", "0.8", ""]
AQoL8D_ticks = [0.2, 0.4, 0.6, 0.8, 1.0]
AQoL8D_labels = ["0.2", "", "0.6", "", "1.0"]

# fitted-line texts of the upper panels: (row var i, col var j)
pair_i = [0, 0, 0, 0, 0, 1, 1, 1, 1, 2, 2, 2, 3, 3, 4]
pair_j = [1, 2, 3, 4, 5, 2, 3, 4, 5, 3, 4, 5, 4, 5, 5]
x_int = [0.135, -0.389, -0.765, 0.195, -0.025, -0.621, -1.067, 0.071, -0.189, -0.239, 0.371, 0.231, 0.547, 0.421, -0.26]
x_slope = [0.843, 1.576, 1.757, 0.847, 1.038, 1.869, 2.083, 1.004, 1.231, 1.115, 0.537, 0.659, 0.482, 0.591, 1.226]
y_int = [-0.16, 0.247, 0.435, -0.231, 0.024, 0.333, 0.512, -0.071, 0.154, 0.214, -0.69, -0.351, -1.134, -0.713, 0.212]
y_slope = [1.186, 0.635, 0.569, 1.181, 0.963, 0.535, 0.48, 0.996, 0.813, 0.897, 1.861, 1.518, 2.075, 1.693, 0.816]
corr = [0.8, 0.77, 0.82, 0.77, 0.79, 0.72, 0.84, 0.78, 0.82, 0.78, 0.75, 0.81, 0.79, 0.85, 0.84]

data = [EQ5D, HUI3, SF6D, D15, AQoL4D, AQoL8D]
counts = [EQ5D_counts, HUI3_counts, SF6D_counts, D15_counts, AQoL4D_counts, AQoL8D_counts]
ticks = [EQ5D_ticks, HUI3_ticks, SF6D_ticks, D15_ticks, AQoL4D_ticks, AQoL8D_ticks]
labels = [EQ5D_labels, HUI3_labels, SF6D_labels, D15_labels, AQoL4D_labels, AQoL8D_labels]
N = min(len(d) for d in data)
data = [d[:N] for d in data]

ranges = []
for d in data:
    lo, hi = min(d), max(d)
    pad = 0.04 * (hi - lo)
    ranges.append([lo - pad, hi + pad])

FONT = "Liberation Sans, Arial, Helvetica, sans-serif"
fig = make_subplots(rows=6, cols=6, horizontal_spacing=0, vertical_spacing=0)


def ref(r, c):
    idx = r * 6 + c + 1
    return ("x" if idx == 1 else f"x{idx}"), ("y" if idx == 1 else f"y{idx}")


# diagonal: histograms and names
for k in range(6):
    cnt = counts[k]
    mx = max(cnt)
    centers = [hist_start[k] + hist_width[k] * (b + 0.5) for b in range(len(cnt))]
    fig.add_trace(go.Bar(x=centers, y=[v / mx for v in cnt], width=hist_width[k],
                         marker=dict(color="#00FFFF", line=dict(color="black", width=2.5)),
                         showlegend=False, hoverinfo="skip"), row=k + 1, col=k + 1)
    xr, yr = ref(k, k)
    fig.add_annotation(text=names[k], x=0.5, y=0.82, xref=f"{xr} domain", yref=f"{yr} domain",
                       showarrow=False, xanchor="center", yanchor="middle",
                       font=dict(family=FONT, size=66, color="black"))

# lower panels: scatter + line; upper panels: text
text_y = [0.898, 0.683, 0.493, 0.293, 0.088]
for p in range(len(pair_i)):
    i, j = pair_i[p], pair_j[p]
    fig.add_trace(go.Scatter(x=data[i], y=data[j], mode="markers",
                             marker=dict(symbol="circle-open", size=13, color="black",
                                         line=dict(width=2.4, color="black")),
                             showlegend=False, hoverinfo="skip"), row=j + 1, col=i + 1)
    lx = ranges[i]
    fig.add_trace(go.Scatter(x=lx, y=[y_int[p] + y_slope[p] * v for v in lx], mode="lines",
                             line=dict(color="#0000FF", width=5),
                             showlegend=False, hoverinfo="skip"), row=j + 1, col=i + 1)
    # invisible anchor so the upper panel axes are drawn
    fig.add_trace(go.Scatter(x=[ranges[j][0]], y=[ranges[i][0]], mode="markers",
                             marker=dict(opacity=0, size=1), showlegend=False, hoverinfo="skip"),
                  row=i + 1, col=j + 1)
    xr, yr = ref(i, j)
    lines = [f"y: {names[j]}", f"x: {names[i]}", f"x={x_int[p]}+{x_slope[p]}y",
             f"y={y_int[p]}+{y_slope[p]}x", f"Correlation={corr[p]}"]
    for t, yy in zip(lines, text_y):
        fig.add_annotation(text=t, x=0.5, y=yy, xref=f"{xr} domain", yref=f"{yr} domain",
                           showarrow=False, xanchor="center", yanchor="middle",
                           font=dict(family=FONT, size=34, color="black"))

# axes
for r in range(6):
    for c in range(6):
        xa = dict(range=ranges[c], showgrid=False, zeroline=False, showline=True, mirror=True,
                  linecolor="black", linewidth=2.5, showticklabels=False, ticks="",
                  automargin=False, fixedrange=True,
                  tickfont=dict(family=FONT, size=34, color="black"))
        if r == 0 and c % 2 == 1:
            xa.update(side="top", ticks="outside", ticklen=20, tickwidth=2.5, tickcolor="black",
                      showticklabels=True, tickvals=ticks[c], ticktext=labels[c],
                      ticklabelstandoff=8)
        if r == 5 and c % 2 == 0:
            xa.update(side="bottom", ticks="outside", ticklen=20, tickwidth=2.5, tickcolor="black",
                      showticklabels=True, tickvals=ticks[c], ticktext=labels[c],
                      ticklabelstandoff=18)
        fig.update_xaxes(row=r + 1, col=c + 1, **xa)

        yrng = [0, 1.5] if r == c else ranges[r]
        ya = dict(range=yrng, showgrid=False, zeroline=False, showline=True, mirror=True,
                  linecolor="black", linewidth=2.5, showticklabels=False, ticks="",
                  automargin=False, fixedrange=True,
                  tickfont=dict(family=FONT, size=34, color="black"))
        if c == 0 and r % 2 == 1:
            ya.update(side="left", ticks="outside", ticklen=20, tickwidth=2.5, tickcolor="black",
                      showticklabels=True, tickvals=ticks[r], ticktext=labels[r], tickangle=-90,
                      ticklabelstandoff=7)
        if c == 5 and r % 2 == 0:
            ya.update(side="right", ticks="outside", ticklen=20, tickwidth=2.5, tickcolor="black",
                      showticklabels=True, tickvals=ticks[r], ticktext=labels[r], tickangle=-90,
                      ticklabelstandoff=18)
        fig.update_yaxes(row=r + 1, col=c + 1, **ya)

fig.update_layout(width=2030, height=2040, paper_bgcolor="white", plot_bgcolor="white",
                  margin=dict(l=104, r=75, t=111, b=82), showlegend=False, bargap=0,
                  font=dict(family=FONT, color="black"))

fig.write_html("out.html", config={"displayModeBar": False, "staticPlot": True},
               post_script="document.body.style.margin='0px';")
